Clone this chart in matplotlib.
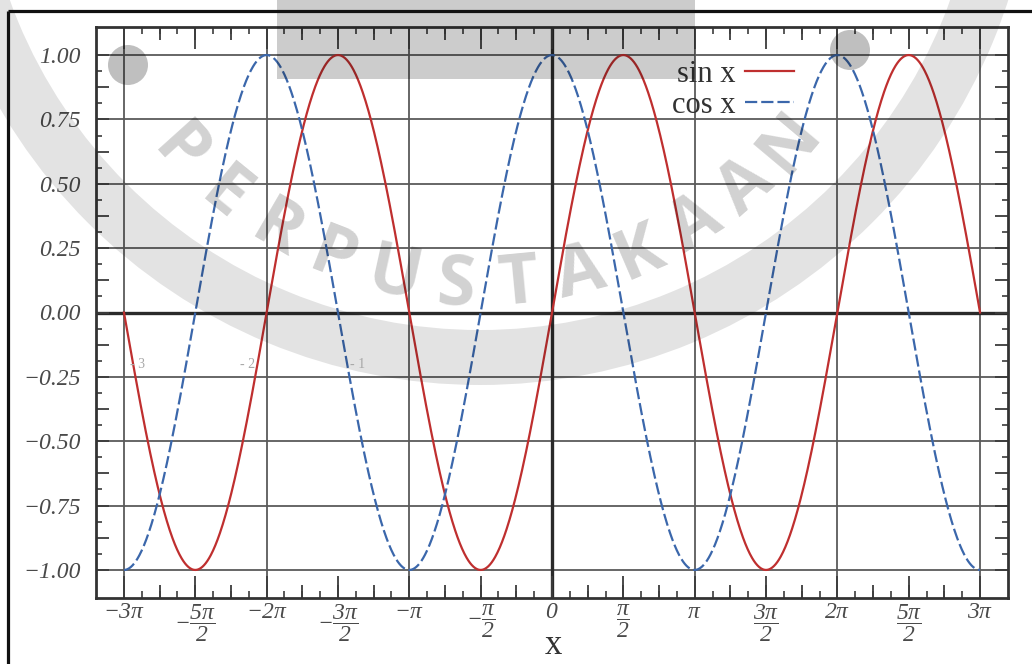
import numpy as np
import matplotlib.pyplot as plt
from matplotlib.patches import Wedge, Rectangle, Circle

plt.rcParams['font.family'] = ['Liberation Serif', 'DejaVu Serif']
plt.rcParams['mathtext.fontset'] = 'custom'
plt.rcParams['mathtext.rm'] = 'Liberation Serif:italic'
plt.rcParams['mathtext.it'] = 'Liberation Serif:italic'
plt.rcParams['mathtext.bf'] = 'Liberation Serif:bold'

# ---- data ----
series_names = ['sin x', 'cos x']
x = np.linspace(-3 * np.pi, 3 * np.pi, 1500)
sin_y = np.sin(x)
cos_y = np.cos(x)

x_ticks = np.arange(-6, 7) * np.pi / 2
x_tick_labels = [r'$-3\pi$', r'$-\dfrac{5\pi}{2}$', r'$-2\pi$', r'$-\dfrac{3\pi}{2}$',
                 r'$-\pi$', r'$-\dfrac{\pi}{2}$', r'$0$', r'$\dfrac{\pi}{2}$', r'$\pi$',
                 r'$\dfrac{3\pi}{2}$', r'$2\pi$', r'$\dfrac{5\pi}{2}$', r'$3\pi$']
x_grid = np.arange(-3, 4) * np.pi
x_mid = np.arange(-12, 13) * np.pi / 4
x_minor = np.arange(-24, 25) * np.pi / 8

y_grid = [-1.0, -0.75, -0.5, -0.25, 0.0, 0.25, 0.5, 0.75, 1.0]
y_tick_labels = ['−1.00', '−0.75', '−0.50', '−0.25', '0.00', '0.25', '0.50', '0.75', '1.00']
y_major = np.arange(-8, 9) * 0.125
y_minor = np.arange(-16, 17) * 0.0625

watermark = 'PERPUSTAKAAN'
stray_labels = ['- 3', '- 2', '- 1']

red = '#bf2f2f'
blue = '#3b67ab'
tick_col = '#3c3c3c'
lbl_col = '#4a4a4a'

fig = plt.figure(figsize=(10.32, 6.64), dpi=100)
ax = fig.add_axes([96 / 1032, 66 / 664, 912 / 1032, 571 / 664])

xl = 3.196 * np.pi
ax.set_xlim(-xl, xl)
ax.set_ylim(-1.109, 1.109)

# grid
for g in y_grid:
    ax.axhline(g, color='#5a5a5a', lw=1.3, zorder=1)
for g in x_grid:
    ax.axvline(g, color='#5a5a5a', lw=1.3, zorder=1)
ax.axhline(0, color='#2a2a2a', lw=2.4, zorder=1.5)
ax.axvline(0, color='#2a2a2a', lw=2.4, zorder=1.5)

ax.plot(x, sin_y, color=red, lw=1.6, label=series_names[0], zorder=3)
ax.plot(x, cos_y, color=blue, lw=1.6, dashes=(5.5, 1.8), label=series_names[1], zorder=3)

for s in ax.spines.values():
    s.set_color('#333333')
    s.set_linewidth(2)

ax.set_xticks(x_ticks)
ax.set_xticklabels(x_tick_labels, fontsize=17, color=lbl_col)
ax.set_xticks(x_minor, minor=True)
ax.set_yticks(y_major)
ax.set_yticklabels([y_tick_labels[i // 2] if i % 2 == 0 else '' for i in range(len(y_major))],
                   fontsize=17, fontstyle='italic', color=lbl_col)
ax.set_yticks(y_minor, minor=True)

ax.tick_params(axis='x', which='major', direction='in', length=16, width=1.3, color=tick_col,
               top=True, bottom=True, pad=3)
ax.tick_params(axis='x', which='minor', direction='in', length=5, width=1.2, color=tick_col,
               top=True, bottom=True)
ax.tick_params(axis='y', which='major', direction='in', length=9.5, width=1.3, color=tick_col,
               left=True, right=True, pad=11)
ax.tick_params(axis='y', which='minor', direction='in', length=4, width=1.2, color=tick_col,
               left=True, right=True)

for side in ['bottom', 'top']:
    sec = ax.secondary_xaxis(side)
    sec.set_xticks(x_mid)
    sec.tick_params(direction='in', length=9.5, width=1.3, color=tick_col,
                    labelbottom=False, labeltop=False)
    sec.spines[side].set_visible(False)

leg = ax.legend(loc='upper right', bbox_to_anchor=(0.765, 0.942), frameon=False,
                markerfirst=False, fontsize=22, handlelength=1.6, handletextpad=0.3,
                labelspacing=0.05, borderpad=0, borderaxespad=0)
for t in leg.get_texts():
    t.set_color('#333333')

fig.text(553 / 1032, 0.003, 'x', fontsize=25, ha='center', va='bottom', color='#333333')

# ---- watermark overlay (image pixel coords) ----
ov = fig.add_axes([0, 0, 1, 1], zorder=10)
ov.set_xlim(0, 1032)
ov.set_ylim(664, 0)
ov.axis('off')
ov.patch.set_alpha(0)

ov.plot([8, 1032], [11, 11], color='#111111', lw=2.3, solid_capstyle='butt')
ov.plot([8, 8], [11, 664], color='#111111', lw=2.3, solid_capstyle='butt')

ov.add_patch(Wedge((480, -170), 555, 0, 360, width=55, fc=(0, 0, 0, 0.11), ec='none'))
ov.add_patch(Rectangle((277, 0), 418, 79, fc=(0, 0, 0, 0.2), ec='none'))
ov.add_patch(Circle((128, 65), 20, fc=(0, 0, 0, 0.25), ec='none'))
ov.add_patch(Circle((850, 50), 20, fc=(0, 0, 0, 0.25), ec='none'))

cx, cy, r = 480, -118, 405
angles = np.linspace(-48, 50, len(watermark))
for ch, a in zip(watermark, angles):
    px = cx + r * np.sin(np.radians(a))
    py = cy + r * np.cos(np.radians(a))
    ov.text(px, py, ch, fontsize=50, family='Open Sans', weight='bold', color=(0, 0, 0, 0.18),
            ha='center', va='center', rotation=a, rotation_mode='anchor')

for lab, px in zip(stray_labels, [138, 248, 358]):
    ov.text(px, 365, lab, fontsize=10, color='#a8a8a8', ha='center', va='center')

fig.savefig('out.png', dpi=100)
